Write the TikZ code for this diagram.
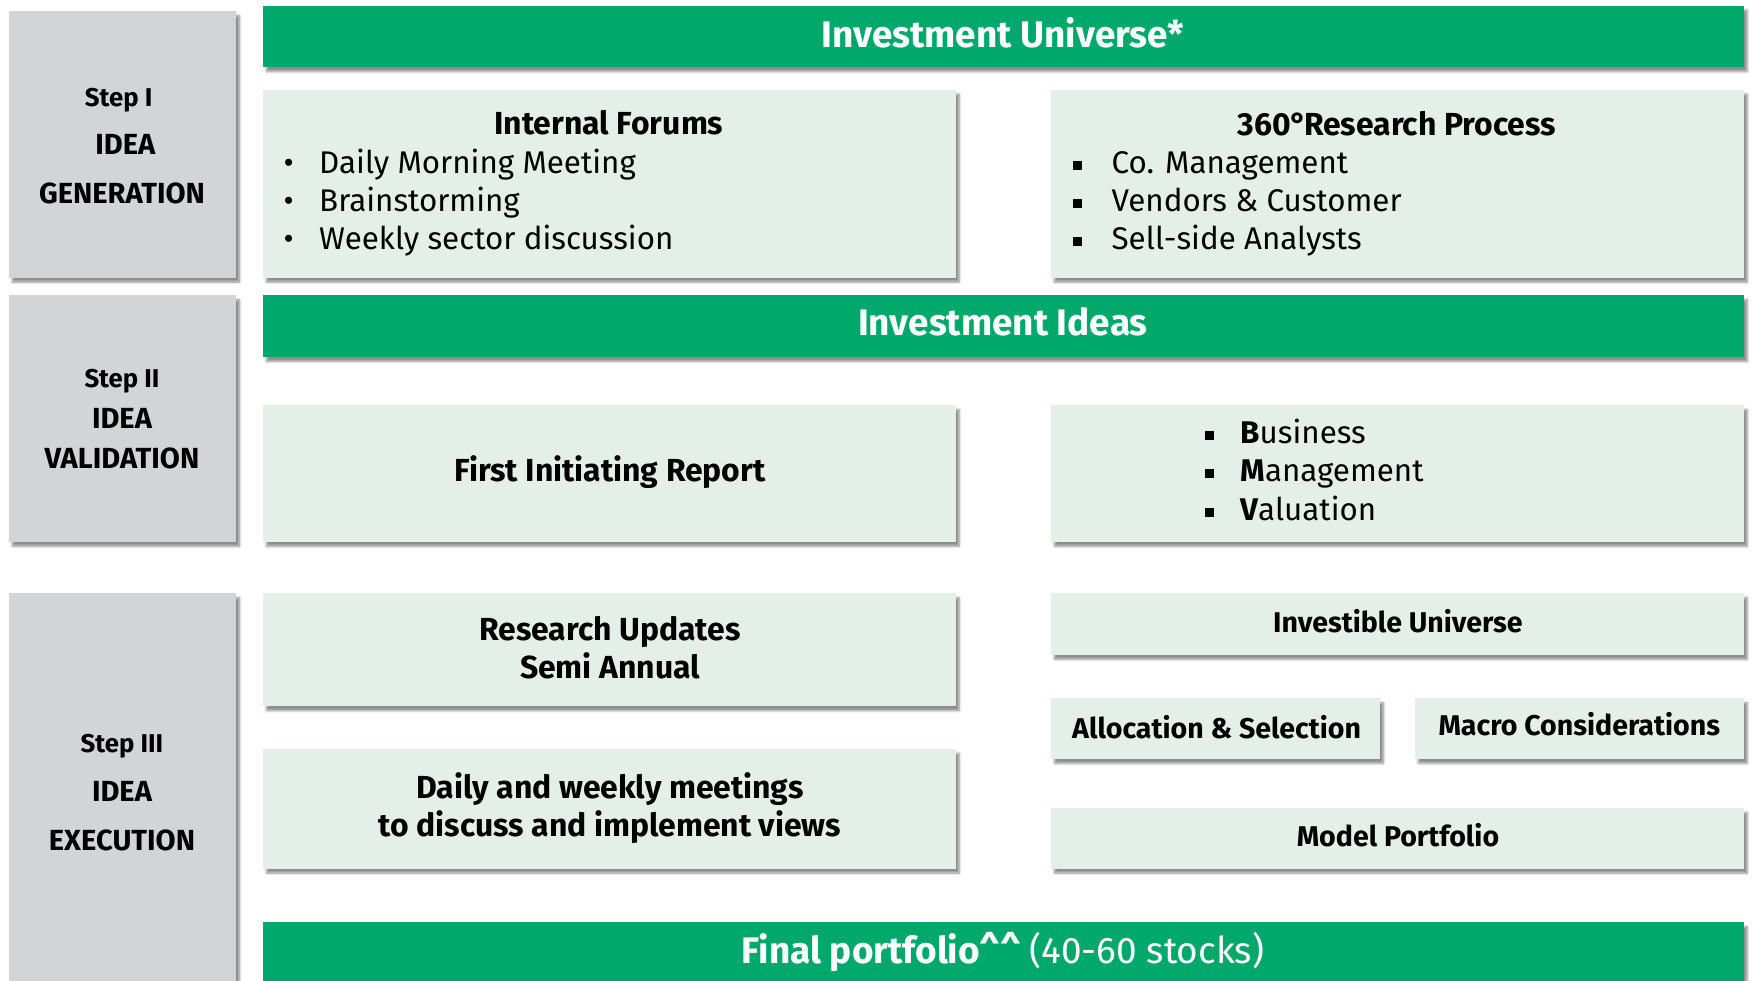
\documentclass[tikz,border=0pt]{standalone}
\usepackage{fontspec}
\setmainfont{Fira Sans}
\usetikzlibrary{shadows.blur}
\definecolor{grn}{RGB}{0,168,107}
\definecolor{lgt}{RGB}{229,239,234}
\definecolor{gry}{RGB}{211,212,214}
\tikzset{
  x=1pt,y=-1pt,
  sh/.style={blur shadow={shadow xshift=3pt,shadow yshift=-4pt,shadow blur steps=6,shadow opacity=45}},
  box/.style={sh,anchor=north west,inner sep=0pt,outer sep=0pt,draw=none},
  stepbox/.style={box,fill=gry},
  greenbox/.style={box,fill=grn},
  lightbox/.style={box,fill=lgt},
  txt/.style={anchor=base,inner sep=0pt,font=\bfseries\fontsize{28.5}{32}\selectfont},
  stxt/.style={anchor=base,inner sep=0pt,font=\bfseries\fontsize{25.5}{30}\selectfont},
  wtxt/.style={txt,text=white,font=\bfseries\fontsize{33}{38}\selectfont},
  steptxt/.style={txt,font=\bfseries\fontsize{26}{30}\selectfont},
  stepsm/.style={txt,font=\bfseries\fontsize{23}{28}\selectfont},
  ltxt/.style={anchor=base west,inner sep=0pt,font=\fontsize{28}{32}\selectfont},
  bul/.style={anchor=base,inner sep=0pt,font=\fontsize{28}{32}\selectfont},
}
\begin{document}
\begin{tikzpicture}
\useasboundingbox (0,0) rectangle (1568,876);
\begin{scope}
\clip (0,0) rectangle (1568,876);
% step boxes
\node[stepbox,minimum width=203pt,minimum height=238pt] (s1) at (8,10) {};
\node[stepbox,minimum width=203pt,minimum height=220pt] (s2) at (8,264) {};
\node[stepbox,minimum width=203pt,minimum height=360pt] (s3) at (8,530) {};
% green bars
\node[greenbox,minimum width=1323pt,minimum height=55pt] (g1) at (235,5) {};
\node[greenbox,minimum width=1323pt,minimum height=55pt] (g2) at (235,264) {};
\node[greenbox,minimum width=1323pt,minimum height=70pt] (g3) at (235,824) {};
% light boxes
\node[lightbox,minimum width=619pt,minimum height=168pt] (if) at (235,80) {};
\node[lightbox,minimum width=619pt,minimum height=168pt] (rp) at (939,80) {};
\node[lightbox,minimum width=619pt,minimum height=122pt] (fir) at (235,362) {};
\node[lightbox,minimum width=619pt,minimum height=122pt] (bmv) at (939,362) {};
\node[lightbox,minimum width=619pt,minimum height=101pt] (ru) at (235,530) {};
\node[lightbox,minimum width=619pt,minimum height=107pt] (dw) at (235,669) {};
\node[lightbox,minimum width=619pt,minimum height=55pt] (iu) at (939,530) {};
\node[lightbox,minimum width=294pt,minimum height=54pt] (as) at (939,624) {};
\node[lightbox,minimum width=294pt,minimum height=54pt] (mc) at (1264,624) {};
\node[lightbox,minimum width=619pt,minimum height=54pt] (mp) at (939,722) {};
\end{scope}
% step texts
\node[stepsm] (s1a) at (106,95) {Step I};
\node[steptxt] (s1b) at (112,138) {IDEA};
\node[steptxt] (s1c) at (109,182) {GENERATION};
\node[stepsm] (s2a) at (109,346) {Step II};
\node[steptxt] (s2b) at (109,383) {IDEA};
\node[steptxt] (s2c) at (109,419) {VALIDATION};
\node[stepsm] (s3a) at (109,672) {Step III};
\node[steptxt] (s3b) at (109,716) {IDEA};
\node[steptxt] (s3c) at (109,760) {EXECUTION};
% green texts
\node[wtxt] (t1) at (896,42) {Investment Universe*};
\node[wtxt] (t2) at (896,300) {Investment Ideas};
\node[wtxt] (t3) at (896,861) {Final portfolio\textasciicircum\textasciicircum{} {\mdseries(40-60 stocks)}};
% internal forums
\node[txt] (ift) at (544,120) {Internal Forums};
\node[bul] (ib1) at (258,155) {\textbullet};
\node[bul] (ib2) at (258,189) {\textbullet};
\node[bul] (ib3) at (258,223) {\textbullet};
\node[ltxt] (il1) at (285,155) {Daily Morning Meeting};
\node[ltxt] (il2) at (285,189) {Brainstorming};
\node[ltxt] (il3) at (285,223) {Weekly sector discussion};
% research process
\node[txt] (rpt) at (1248,121) {360°\kern-3pt Research Process};
\node[bul] (rb1) at (963,152) {\rule{8pt}{8pt}};
\node[bul] (rb2) at (963,186) {\rule{8pt}{8pt}};
\node[bul] (rb3) at (963,220) {\rule{8pt}{8pt}};
\node[ltxt] (rl1) at (993,155) {Co. Management};
\node[ltxt] (rl2) at (993,189) {Vendors \& Customer};
\node[ltxt] (rl3) at (993,223) {Sell-side Analysts};
% first initiating
\node[txt] (firt) at (545,430) {First Initiating Report};
% business
\node[bul] (bb1) at (1081,393) {\rule{8pt}{8pt}};
\node[bul] (bb2) at (1081,427) {\rule{8pt}{8pt}};
\node[bul] (bb3) at (1081,462) {\rule{8pt}{8pt}};
\node[ltxt] (bl1) at (1108,396) {{\bfseries B}usiness};
\node[ltxt] (bl2) at (1108,430) {{\bfseries M}anagement};
\node[ltxt] (bl3) at (1108,465) {{\bfseries V}aluation};
% research updates
\node[txt] (rut1) at (545,572) {Research Updates};
\node[txt] (rut2) at (545,606) {Semi Annual};
\node[txt] (dwt1) at (545,713) {Daily and weekly meetings};
\node[txt] (dwt2) at (545,747) {to discuss and implement views};
% right column
\node[stxt] (iut) at (1249,565) {Investible Universe};
\node[stxt] (ast) at (1087,660) {Allocation \& Selection};
\node[stxt] (mct) at (1411,657) {Macro Considerations};
\node[stxt] (mpt) at (1249,756) {Model Portfolio};
\end{tikzpicture}
\end{document}
